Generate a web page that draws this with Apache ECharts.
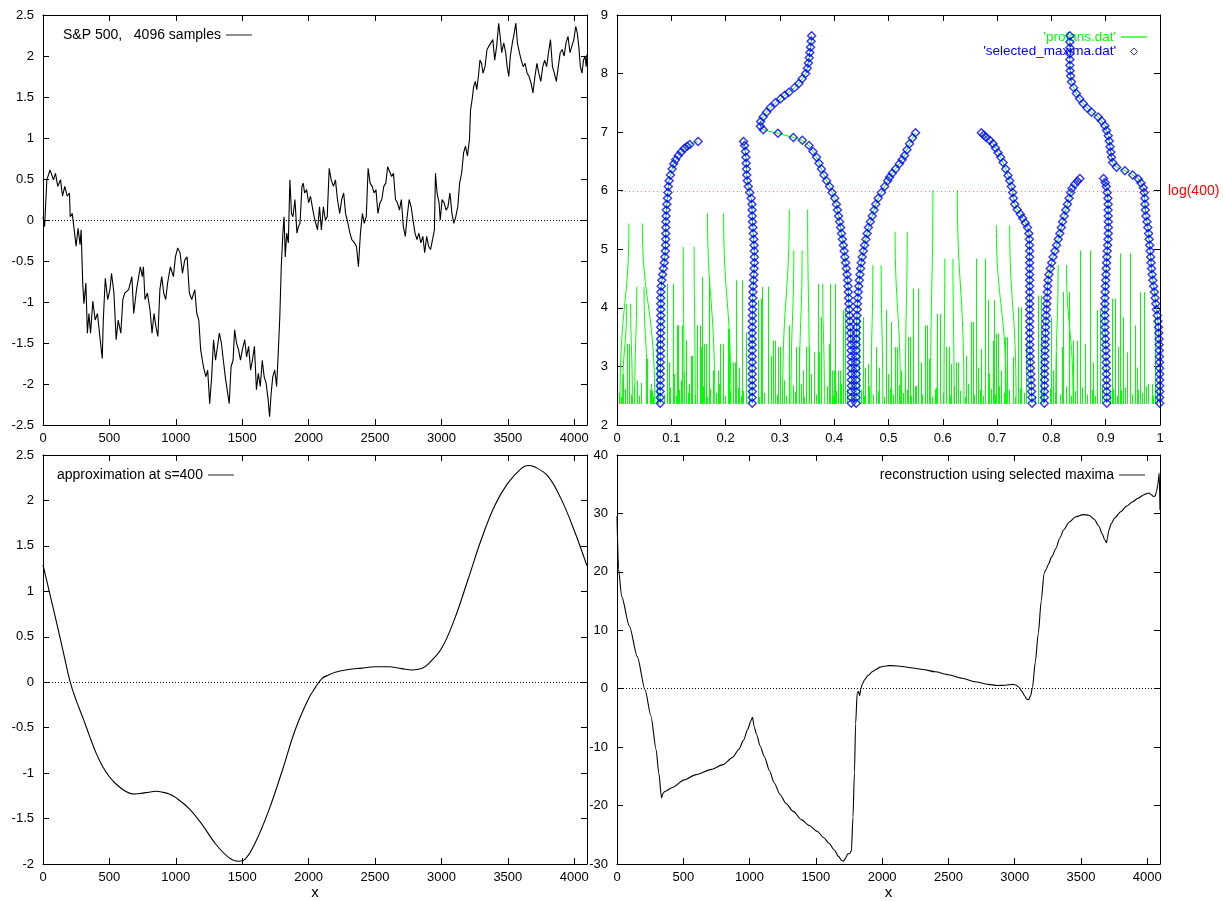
<!DOCTYPE html>
<html><head><meta charset="utf-8">
<script src="https://cdn.jsdelivr.net/npm/echarts@6/dist/echarts.min.js"></script>
<style>html,body{margin:0;padding:0;background:#fff}#c{width:1223px;height:901px}</style>
</head><body><div id="c"></div>
<script>
// ---------------- DATA ----------------
const spData = [[0,0.04],[12,-0.08],[29,0.49],[53,0.61],[64,0.63],[79,0.49],[94,0.57],[111,0.41],[132,0.49],[147,0.29],[164,0.41],[182,0.29],[199,0.33],[205,0.04],[220,0.08],[235,-0.12],[249,-0.32],[264,-0.10],[279,-0.30],[287,-0.12],[299,-0.77],[308,-1.02],[323,-0.77],[334,-1.38],[346,-1.14],[358,-1.38],[375,-0.99],[393,-1.22],[410,-1.14],[428,-1.42],[446,-1.69],[454,-1.22],[469,-0.71],[487,-0.97],[504,-0.85],[516,-0.65],[534,-0.89],[551,-1.46],[566,-1.22],[586,-1.38],[601,-0.97],[616,-0.89],[645,-0.85],[669,-0.69],[683,-1.14],[704,-0.85],[718,-0.85],[733,-0.57],[748,-0.69],[756,-0.57],[768,-0.97],[786,-0.89],[806,-1.10],[821,-1.38],[836,-1.14],[850,-1.30],[865,-1.42],[880,-0.85],[894,-0.69],[909,-0.89],[924,-0.97],[938,-0.77],[959,-0.57],[982,-0.69],[997,-0.45],[1014,-0.34],[1032,-0.40],[1050,-0.65],[1067,-0.49],[1085,-0.45],[1102,-0.89],[1120,-0.97],[1143,-0.85],[1158,-1.14],[1173,-1.22],[1187,-1.58],[1208,-1.79],[1226,-1.91],[1240,-1.83],[1255,-2.24],[1270,-1.91],[1284,-1.46],[1299,-1.71],[1314,-1.54],[1328,-1.38],[1343,-1.50],[1358,-1.71],[1372,-1.91],[1387,-1.91],[1402,-2.24],[1416,-1.79],[1431,-1.71],[1443,-1.34],[1457,-1.50],[1472,-1.58],[1487,-1.71],[1501,-1.58],[1519,-1.46],[1533,-1.67],[1548,-1.54],[1563,-1.83],[1577,-1.71],[1592,-1.54],[1607,-2.07],[1621,-1.87],[1636,-2.03],[1651,-1.71],[1665,-1.91],[1680,-1.99],[1695,-2.19],[1706,-2.40],[1718,-2.11],[1730,-1.91],[1745,-1.83],[1759,-2.03],[1771,-1.63],[1783,-1.18],[1794,-0.57],[1806,-0.16],[1815,0.04],[1824,-0.45],[1835,-0.16],[1847,-0.28],[1859,0.49],[1871,0.08],[1882,0.04],[1897,0.25],[1912,-0.16],[1923,-0.08],[1935,-0.04],[1950,0.41],[1959,0.45],[1970,0.33],[1985,0.37],[2000,0.21],[2014,0.29],[2032,0.12],[2047,0.0],[2067,-0.12],[2082,0.16],[2096,-0.12],[2111,0.16],[2126,0.0],[2140,0.04],[2155,0.63],[2170,0.49],[2187,0.41],[2202,0.49],[2217,0.25],[2234,0.08],[2249,0.25],[2264,0.33],[2278,0.08],[2296,-0.04],[2311,-0.16],[2325,-0.24],[2346,-0.28],[2360,-0.32],[2375,-0.57],[2390,-0.16],[2405,0.08],[2419,-0.04],[2434,0.04],[2448,0.63],[2463,0.45],[2478,0.41],[2493,0.33],[2507,0.37],[2522,0.08],[2537,0.21],[2551,0.25],[2566,0.41],[2581,0.45],[2595,0.65],[2610,0.67],[2625,0.53],[2639,0.57],[2654,0.25],[2669,0.21],[2684,0.12],[2698,0.25],[2713,-0.08],[2728,-0.20],[2742,0.04],[2757,0.25],[2772,0.16],[2786,0.0],[2801,-0.16],[2816,-0.24],[2830,-0.16],[2845,-0.28],[2860,-0.20],[2874,-0.40],[2889,-0.20],[2903,-0.32],[2918,-0.36],[2933,-0.24],[2947,-0.12],[2955,0.57],[2967,0.33],[2982,0.21],[2991,0.0],[3005,0.25],[3020,0.21],[3035,0.12],[3049,0.16],[3064,0.33],[3079,0.08],[3093,-0.04],[3108,0.04],[3123,0.16],[3137,0.45],[3152,0.57],[3167,0.82],[3181,0.90],[3196,0.78],[3211,0.98],[3219,1.34],[3231,1.47],[3243,1.63],[3255,1.69],[3266,1.59],[3278,1.75],[3290,1.95],[3302,1.91],[3313,1.79],[3328,1.87],[3343,2.08],[3357,2.12],[3372,2.16],[3387,2.20],[3401,1.95],[3416,2.12],[3431,2.40],[3442,2.24],[3454,2.04],[3469,2.16],[3484,2.04],[3495,1.87],[3507,1.75],[3519,2.00],[3534,2.16],[3548,2.28],[3560,2.40],[3572,2.16],[3587,2.04],[3601,1.95],[3616,1.87],[3630,1.91],[3645,1.79],[3660,1.75],[3675,1.67],[3689,1.55],[3704,1.75],[3719,1.91],[3733,1.79],[3748,1.69],[3763,1.87],[3777,1.95],[3792,1.87],[3806,2.04],[3821,2.20],[3836,1.87],[3850,1.79],[3865,1.69],[3880,1.87],[3894,2.04],[3909,2.08],[3924,2.00],[3938,2.16],[3953,2.24],[3968,2.04],[3982,2.12],[3997,2.20],[4011,2.36],[4023,2.28],[4034,2.12],[4046,1.87],[4058,1.79],[4070,1.95],[4081,2.00],[4090,1.87],[4096,2.02]];

const approxData = [[0,1.29],[50,0.98],[100,0.67],[150,0.35],[205,0.0],[250,-0.20],[300,-0.39],[350,-0.59],[400,-0.78],[450,-0.93],[500,-1.04],[550,-1.12],[600,-1.18],[650,-1.22],[700,-1.23],[750,-1.22],[800,-1.21],[850,-1.20],[900,-1.21],[950,-1.23],[1000,-1.27],[1100,-1.39],[1200,-1.57],[1300,-1.78],[1400,-1.93],[1470,-1.97],[1520,-1.95],[1600,-1.76],[1700,-1.41],[1800,-0.98],[1900,-0.52],[2000,-0.18],[2050,-0.06],[2100,0.04],[2150,0.08],[2200,0.11],[2300,0.14],[2400,0.155],[2500,0.17],[2600,0.17],[2700,0.15],[2780,0.135],[2850,0.15],[2900,0.20],[3000,0.37],[3100,0.70],[3200,1.13],[3300,1.57],[3400,1.94],[3500,2.19],[3600,2.35],[3650,2.385],[3700,2.37],[3800,2.27],[3900,2.02],[4000,1.67],[4096,1.28]];

const reconData = [[0,29.5],[12,20.4],[35,15.8],[94,10.7],[153,5.5],[212,-0.2],[256,-4.7],[295,-10.4],[315,-14.4],[336,-18.7],[345,-18.0],[360,-17.6],[418,-16.9],[507,-15.6],[595,-14.7],[713,-13.8],[800,-13.0],[870,-11.8],[919,-10.4],[955,-8.8],[985,-7.0],[1010,-5.5],[1022,-4.9],[1035,-6.5],[1052,-7.8],[1080,-9.8],[1111,-11.6],[1150,-14.0],[1185,-16.1],[1230,-18.1],[1273,-19.6],[1330,-21.0],[1391,-22.4],[1450,-23.4],[1509,-24.4],[1560,-25.5],[1597,-26.4],[1640,-27.6],[1671,-28.7],[1695,-29.4],[1709,-29.5],[1725,-29.0],[1739,-28.3],[1755,-28.2],[1768,-27.8],[1780,-22],[1791,-14.4],[1800,-6],[1812,-0.7],[1822,-0.5],[1830,-1.2],[1840,0.0],[1850,0.8],[1870,1.6],[1895,2.3],[1925,2.9],[1954,3.3],[1985,3.7],[2013,3.85],[2050,3.95],[2072,3.95],[2150,3.8],[2230,3.55],[2308,3.3],[2400,2.9],[2500,2.4],[2603,1.8],[2700,1.2],[2800,0.75],[2870,0.55],[2930,0.6],[2986,0.75],[3010,0.6],[3031,0.3],[3055,-0.5],[3075,-1.2],[3090,-1.8],[3105,-1.9],[3120,-1.2],[3134,0.2],[3155,4.5],[3178,9.5],[3200,15],[3222,19.8],[3237,20.4],[3252,21.2],[3280,22.6],[3311,24.0],[3340,25.8],[3370,27.2],[3410,28.5],[3458,29.4],[3517,29.8],[3560,29.7],[3600,29.0],[3635,27.8],[3660,26.5],[3679,25.5],[3692,25.0],[3700,25.8],[3708,27.0],[3730,28.3],[3753,29.2],[3800,30.3],[3841,31.2],[3890,32.0],[3929,32.6],[3975,33.2],[4012,33.5],[4030,33.2],[4047,32.9],[4060,33.0],[4070,33.8],[4080,35.0],[4090,36.9],[4096,30.6]];

// profans.dat : lowest scale level, tall maxima lines [xAtBase, xAtTop, topLevel], short lines [x, topLevel]
const fanBase = 2.36;
const fanTall = [[.0055,.022,5.44],[.0695,.0467,5.44],[.0326,.0363,4.36],[.0560,.0498,4.36],[.0098,.0178,4.07],[.0283,.0252,4.07],[.0928,.0928,4.41],[.1040,.1040,4.41],[.1236,.1220,5.04],[.1440,.1420,5.04],[.1127,.1127,3.70],[.1800,.1667,5.61],[.2097,.1963,5.61],[.1574,.1574,4.53],[.1697,.1697,4.53],[.2190,.2190,4.47],[.2300,.2300,4.47],[.3050,.3173,5.68],[.3542,.3511,5.68],[.3204,.3256,4.98],[.3358,.3409,4.98],[.2669,.2669,4.36],[.2774,.2774,4.36],[.3697,.3697,4.41],[.3819,.3789,4.41],[.3924,.3924,4.41],[.4022,.4022,4.41],[.4680,.4711,4.73],[.4895,.4865,4.73],[.5775,.5818,6.01],[.6390,.6267,6.01],[.5220,.5122,5.30],[.5310,.5344,5.30],[.6022,.6037,4.84],[.6208,.6187,4.84],[.6617,.6617,4.84],[.6771,.6771,4.84],[.7170,.6987,5.41],[.7350,.7232,5.41],[.5448,.5448,4.33],[.5541,.5541,4.33],[.6824,.6824,4.13],[.6937,.6937,4.13],[.8524,.8524,4.98],[.8708,.8708,4.98],[.9260,.9260,4.93],[.9446,.9446,4.93],[.8080,.8124,4.73],[.8400,.8278,4.73],[.8216,.8216,4.27],[.8327,.8327,4.27],[.7755,.7755,4.21],[.7817,.7817,4.21],[.9631,.9631,4.27],[.9705,.9705,4.27]];
const fanShort = [[.0117,2.87],[.0178,3.38],[.0221,3.38],[.0283,2.47],[.0363,2.76],[.0529,3.13],[.0560,3.13],[.0621,2.70],[.0652,2.58],[.0732,3.44],[.0959,3.07],[.1052,2.87],[.1113,3.70],[.1175,2.76],[.1199,3.70],[.1236,2.90],[.1267,3.44],[.1359,3.18],[.1390,3.18],[.1470,3.70],[.1531,3.70],[.1556,3.33],[.1605,3.38],[.1636,3.38],[.1697,2.93],[.1759,2.93],[.1851,2.93],[.1900,3.38],[.1943,3.38],[.2036,3.64],[.2067,3.64],[.2128,3.07],[.2171,3.07],[.2251,2.98],[.2312,2.58],[.2374,3.58],
[.2589,4.13],[.2651,4.16],[.2835,3.18],[.2878,3.44],[.2915,3.44],[.2958,3.33],[.3001,3.33],[.3081,2.76],[.3161,3.70],[.3235,2.67],[.3297,3.33],[.3346,3.33],[.3420,2.93],[.3481,3.33],[.3530,3.33],[.3573,2.87],[.3635,3.24],[.3715,3.24],[.3758,3.84],[.3911,3.38],[.3961,2.93],[.4004,2.93],[.4065,2.93],[.4108,2.93],[.4157,3.96],[.4207,3.96],[.4465,3.84],[.4526,3.84],[.4576,2.98],[.4619,3.04],[.4773,3.33],[.4834,2.98],[.4957,3.96],[.4988,2.87],
[.5049,3.76],[.5111,3.33],[.5160,3.33],[.5221,2.93],[.5295,2.87],[.5357,3.50],[.5387,3.50],[.5510,2.67],[.5590,3.07],[.5664,3.70],[.5713,3.70],[.5738,3.13],[.5849,2.61],[.5898,3.90],[.5941,3.90],[.6064,3.33],[.6107,3.33],[.6156,3.04],[.6248,3.07],[.6279,3.07],[.6433,3.18],[.6513,3.76],[.6556,3.76],[.6648,2.98],[.6710,3.30],[.6845,2.87],[.6925,3.44],[.6987,3.56],[.7017,3.56],[.7079,2.93],[.7140,3.50],[.7189,3.50],[.7294,3.16],[.7386,4.01],[.7448,4.01],
[.7540,3.38],[.8001,3.84],[.8032,2.93],[.8093,3.24],[.8204,3.33],[.8401,3.44],[.8463,3.44],[.8616,3.38],[.8770,3.07],[.8844,3.96],[.8893,3.96],[.9108,4.16],[.9170,4.16],[.9231,3.33],[.9324,3.84],[.9385,3.24],[.9539,3.70],[.9570,2.98],[.9785,2.70],[.9846,2.70],[.9908,3.84],
[.004,2.55],[.008,2.48],[.014,2.62],[.026,2.52],[.031,2.66],[.040,2.50],[.044,2.72],[.060,2.60],[.066,2.49],[.076,2.56],[.087,2.52],[.098,2.64],[.108,2.50],[.115,2.60],[.130,2.55],[.133,2.70],[.144,2.52],[.158,2.66],[.166,2.48],[.172,2.62],[.182,2.55],[.188,2.70],[.198,2.50],[.208,2.58],[.222,2.64],[.228,2.50],[.243,2.60],[.262,2.48],[.270,2.55],[.278,2.68],[.294,2.52],[.303,2.62],[.312,2.50],[.327,2.56],[.338,2.70],[.345,2.48],[.358,2.60],[.366,2.52],[.386,2.66],[.398,2.50],[.403,2.58],[.413,2.70],[.419,2.52],[.424,2.62],[.450,2.60],[.455,2.50],[.465,2.66],[.472,2.52],[.480,2.58],[.492,2.48],[.502,2.62],[.508,2.52],[.519,2.68],[.526,2.55],[.534,2.60],[.542,2.50],[.548,2.66],[.562,2.52],[.570,2.58],[.580,2.48],[.587,2.64],[.600,2.55],[.613,2.50],[.620,2.66],[.632,2.58],[.640,2.48],[.647,2.70],[.658,2.52],[.668,2.60],[.674,2.50],[.688,2.62],[.696,2.52],[.704,2.66],[.712,2.55],[.722,2.60],[.733,2.48],[.742,2.62],[.750,2.55],[.769,2.50],[.776,2.66],[.784,2.58],[.797,2.62],[.806,2.55],[.815,2.52],[.826,2.66],[.836,2.50],[.844,2.58],[.857,2.64],[.866,2.52],[.874,2.60],[.881,2.50],[.894,2.66],[.907,2.55],[.914,2.62],[.920,2.50],[.929,2.58],[.936,2.64],[.948,2.52],[.960,2.60],[.966,2.55],[.975,2.66],[.988,2.50],[.995,2.58]];

// selected_maxima.dat : chains of maxima [x, level]
const chainA = [[.0795,2.37],[.0795,2.47],[.0795,2.57],[.0795,2.67],[.0796,2.77],[.0797,2.87],[.0798,2.97],[.0799,3.07],[.0800,3.17],[.0800,3.27],[.0801,3.37],[.0802,3.47],[.0803,3.57],[.0804,3.67],[.0805,3.77],[.0806,3.87],[.0806,3.97],[.0806,4.07],[.0806,4.17],[.0808,4.27],[.0815,4.37],[.0826,4.47],[.0840,4.57],[.0855,4.67],[.0870,4.77],[.0882,4.87],[.0890,4.97],[.0895,5.07],[.0898,5.17],[.0899,5.27],[.0899,5.37],[.0900,5.47],[.0903,5.57],[.0908,5.67],[.0918,5.77],[.0930,5.87],[.0938,5.97],[.0945,6.07],[.0960,6.17],[.0985,6.27],[.1015,6.37],[.1045,6.46],[.1080,6.53],[.1130,6.60],[.1180,6.66],[.1240,6.72],[.1290,6.76],[.1340,6.79],[.1494,6.84]];
const chainB = [[.2490,2.37],[.2490,2.47],[.2490,2.57],[.2490,2.67],[.2490,2.77],[.2490,2.87],[.2490,2.97],[.2490,3.07],[.2490,3.17],[.2490,3.27],[.2490,3.37],[.2490,3.47],[.2490,3.57],[.2490,3.67],[.2492,3.77],[.2494,3.87],[.2496,3.97],[.2498,4.07],[.2500,4.17],[.2503,4.27],[.2508,4.37],[.2514,4.47],[.2520,4.57],[.2526,4.67],[.2530,4.77],[.2530,4.87],[.2528,4.97],[.2524,5.07],[.2518,5.17],[.2510,5.27],[.2502,5.37],[.2495,5.47],[.2490,5.57],[.2487,5.67],[.2485,5.77],[.2470,5.87],[.2445,5.97],[.2418,6.07],[.2400,6.17],[.2390,6.27],[.2385,6.37],[.2380,6.47],[.2375,6.57],[.2365,6.67],[.2350,6.77],[.2330,6.84]];
const chainC = [[.4315,2.37],[.4315,2.47],[.4315,2.57],[.4315,2.67],[.4315,2.77],[.4315,2.87],[.4315,2.97],[.4314,3.07],[.4313,3.17],[.4312,3.27],[.4310,3.37],[.4305,3.47],[.4300,3.57],[.4295,3.67],[.4290,3.77],[.4283,3.87],[.4277,3.97],[.4270,4.07],[.4265,4.17],[.4260,4.27],[.4254,4.37],[.4248,4.47],[.4236,4.57],[.4224,4.67],[.4210,4.77],[.4196,4.87],[.4183,4.97],[.4168,5.07],[.4150,5.17],[.4135,5.27],[.4118,5.37],[.4100,5.47],[.4080,5.57],[.4060,5.67],[.4040,5.77],[.4010,5.87],[.3960,5.97],[.3915,6.07],[.3860,6.17],[.3810,6.27],[.3765,6.37],[.3720,6.47],[.3675,6.57],[.3610,6.67],[.3536,6.77],[.3413,6.86],[.3247,6.91],[.2964,6.98],[.2694,7.04],[.2640,7.10],[.2645,7.18],[.2690,7.26],[.2755,7.34],[.2825,7.42],[.2915,7.50],[.3013,7.57],[.3090,7.63],[.3167,7.68],[.3270,7.76],[.3350,7.83],[.3410,7.91],[.3475,8.00],[.3505,8.09],[.3525,8.18],[.3540,8.27],[.3553,8.36],[.3565,8.45],[.3575,8.55],[.3585,8.645]];
const chainD = [[.4405,2.37],[.4405,2.47],[.4405,2.57],[.4405,2.67],[.4405,2.77],[.4405,2.87],[.4405,2.97],[.4405,3.07],[.4405,3.17],[.4405,3.27],[.4405,3.37],[.4405,3.47],[.4407,3.57],[.4410,3.67],[.4414,3.77],[.4419,3.87],[.4424,3.97],[.4429,4.07],[.4434,4.17],[.4442,4.27],[.4452,4.37],[.4463,4.47],[.4474,4.57],[.4486,4.67],[.4498,4.77],[.4515,4.87],[.4537,4.97],[.4560,5.07],[.4583,5.17],[.4606,5.27],[.4630,5.37],[.4665,5.47],[.4700,5.57],[.4735,5.67],[.4765,5.77],[.4810,5.87],[.4870,5.97],[.4930,6.07],[.4985,6.17],[.5020,6.23],[.5070,6.30],[.5130,6.37],[.5200,6.46],[.5250,6.53],[.5295,6.60],[.5340,6.70],[.5387,6.80],[.5440,6.90],[.5498,6.99]];
const chainE = [[.7645,2.37],[.7640,2.47],[.7635,2.57],[.7630,2.67],[.7625,2.77],[.7620,2.87],[.7615,2.97],[.7612,3.07],[.7608,3.17],[.7605,3.27],[.7603,3.37],[.7600,3.47],[.7600,3.57],[.7600,3.67],[.7600,3.77],[.7600,3.87],[.7600,3.97],[.7600,4.07],[.7600,4.17],[.7600,4.27],[.7600,4.37],[.7600,4.47],[.7600,4.57],[.7600,4.67],[.7600,4.77],[.7600,4.87],[.7600,4.97],[.7598,5.07],[.7594,5.17],[.7585,5.27],[.7560,5.37],[.7520,5.45],[.7470,5.53],[.7430,5.60],[.7370,5.68],[.7325,5.77],[.7300,5.87],[.7285,5.97],[.7262,6.07],[.7232,6.17],[.7200,6.26],[.7158,6.37],[.7110,6.48],[.7065,6.57],[.7017,6.65],[.6970,6.73],[.6925,6.80],[.6865,6.86],[.6800,6.91],[.6755,6.95],[.6710,6.99]];
const chainF = [[.7870,2.37],[.7870,2.47],[.7872,2.57],[.7873,2.67],[.7874,2.77],[.7875,2.87],[.7876,2.97],[.7878,3.07],[.7880,3.17],[.7882,3.27],[.7885,3.37],[.7888,3.47],[.7891,3.57],[.7895,3.67],[.7899,3.77],[.7905,3.87],[.7910,3.97],[.7915,4.07],[.7920,4.17],[.7925,4.27],[.7932,4.37],[.7938,4.47],[.7955,4.57],[.7980,4.67],[.8005,4.77],[.8030,4.87],[.8065,4.97],[.8095,5.07],[.8125,5.17],[.8155,5.27],[.8183,5.37],[.8205,5.47],[.8235,5.57],[.8264,5.67],[.8295,5.77],[.8325,5.87],[.8355,5.97],[.8380,6.04],[.8430,6.11],[.8480,6.16],[.8524,6.21]];
const chainG = [[.9020,2.37],[.9020,2.47],[.9018,2.57],[.9016,2.67],[.9014,2.77],[.9012,2.87],[.9010,2.97],[.9008,3.07],[.9005,3.17],[.9003,3.27],[.9000,3.37],[.8995,3.47],[.8990,3.57],[.8988,3.67],[.8986,3.77],[.8985,3.87],[.8985,3.97],[.8985,4.07],[.8987,4.17],[.8990,4.27],[.8995,4.37],[.9000,4.47],[.9005,4.57],[.9010,4.67],[.9016,4.77],[.9022,4.87],[.9028,4.97],[.9035,5.07],[.9042,5.17],[.9048,5.27],[.9050,5.37],[.9048,5.47],[.9046,5.57],[.9044,5.67],[.9045,5.77],[.9040,5.87],[.9028,5.97],[.9010,6.07],[.8990,6.14],[.8960,6.21]];
const chainH = [[.9995,2.37],[.9995,2.47],[.9995,2.57],[.9995,2.67],[.9995,2.77],[.9995,2.87],[.9995,2.97],[.9993,3.07],[.9990,3.17],[.9988,3.27],[.9985,3.37],[.9982,3.47],[.9978,3.57],[.9972,3.67],[.9963,3.77],[.9950,3.87],[.9935,3.97],[.9922,4.07],[.9910,4.17],[.9896,4.27],[.9882,4.37],[.9868,4.47],[.9855,4.57],[.9845,4.67],[.9836,4.77],[.9828,4.87],[.9818,4.97],[.9810,5.07],[.9800,5.17],[.9790,5.27],[.9775,5.37],[.9760,5.47],[.9742,5.57],[.9730,5.67],[.9723,5.77],[.9720,5.87],[.9708,5.97],[.9692,6.05],[.9650,6.13],[.9600,6.20],[.9496,6.27],[.9354,6.34],[.9200,6.40],[.9127,6.48],[.9108,6.57],[.9095,6.66],[.9080,6.75],[.9065,6.85],[.9046,6.94],[.9015,7.03],[.8985,7.11],[.8925,7.19],[.8860,7.26],[.8740,7.34],[.8660,7.41],[.8585,7.49],[.8520,7.57],[.8460,7.66],[.8410,7.76],[.8370,7.86],[.8355,7.96],[.8345,8.05],[.8340,8.14],[.8340,8.24],[.8340,8.34],[.8340,8.44],[.8340,8.54],[.8340,8.645]];
const chains = [chainA, chainB, chainC, chainD, chainE, chainF, chainG, chainH];
const logLevel = 5.99; // log(400)

// axis ranges [min, max, interval]
const xRanges = [[0,4096,500],[0,1,0.1],[0,4096,500],[0,4096,500]];
const yRanges = [[-2.5,2.5,0.5],[2,9,1],[-2,2.5,0.5],[-30,40,10]];

// names
const nSP = 'S&P 500,   4096 samples';
const nFan = "'profans.dat'";
const nMax = "'selected_maxima.dat'";
const nApp = 'approximation at s=400';
const nRec = 'reconstruction using selected maxima';

// ---------------- CHART ----------------
const FONT = '"Liberation Sans", Arial, Helvetica, sans-serif';
const GREEN = '#00ff00', BLUE = '#0000ff', RED = '#ff0000';
const grids = [
  {left:43, top:15, width:544, height:410},
  {left:617, top:15, width:543, height:410},
  {left:43, top:455, width:544, height:409},
  {left:617, top:455, width:543, height:409}
];
const fmt = v => String(Math.round(v * 1000) / 1000);
const xAxes = [], yAxes = [];
const axLine = {onZero:false, lineStyle:{color:'#000', width:1}};
const axTick = {inside:true, length:6, lineStyle:{color:'#000', width:1}};
const lab = {color:'#000', fontSize:13, fontFamily:FONT, formatter:fmt};
for (let g = 0; g < 4; g++) {
  const [x0,x1,xi] = xRanges[g], [y0,y1,yi] = yRanges[g];
  xAxes.push({type:'value', gridIndex:g, position:'bottom', min:x0, max:x1, interval:xi,
    splitLine:{show:false}, axisLine:axLine, axisTick:axTick,
    axisLabel:Object.assign({margin:7, showMaxLabel: x1 === 1, showMinLabel:true}, lab),
    name: g >= 2 ? 'x' : '', nameLocation:'middle', nameGap:19,
    nameTextStyle:{color:'#000', fontSize:15, fontFamily:FONT}});
  xAxes.push({type:'value', gridIndex:g, position:'top', min:x0, max:x1, interval:xi,
    splitLine:{show:false}, axisLine:axLine, axisTick:axTick, axisLabel:{show:false}});
  yAxes.push({type:'value', gridIndex:g, position:'left', min:y0, max:y1, interval:yi,
    splitLine:{show:false}, axisLine:axLine, axisTick:axTick,
    axisLabel:Object.assign({margin:9, showMaxLabel:true, showMinLabel:true}, lab)});
  yAxes.push({type:'value', gridIndex:g, position:'right', min:y0, max:y1, interval:yi,
    splitLine:{show:false}, axisLine:axLine, axisTick:axTick, axisLabel:{show:false}});
}

const zeroLine = {silent:true, symbol:['none','none'], label:{show:false},
  lineStyle:{color:'#000', type:[1,2], width:1}, data:[{yAxis:0}], animation:false};

const fanAll = fanTall.concat(fanShort.map(s => [s[0], s[0], s[1]]));

function fanRender(params, api) {
  const L = fanAll[api.value(2)];
  const p0 = api.coord([L[0], fanBase]);
  const p1 = api.coord([L[1], L[2]]);
  const style = {stroke:GREEN, fill:null, lineWidth:1};
  if (Math.abs(p0[0] - p1[0]) < 0.6) {
    const x = Math.round(p0[0]) + 0.5;
    return {type:'line', shape:{x1:x, y1:p0[1], x2:x, y2:p1[1]}, style};
  }
  const my = p0[1] + (p1[1] - p0[1]) * 0.55;
  return {type:'bezierCurve', shape:{x1:p0[0], y1:p0[1], x2:p1[0], y2:p1[1],
    cpx1:p0[0], cpy1:my, cpx2:p1[0], cpy2:my}, style};
}

const series = [];
series.push({name:nSP, type:'line', xAxisIndex:0, yAxisIndex:0, data:spData, symbol:'none',
  lineStyle:{color:'#000', width:1.1}, itemStyle:{color:'#000'}, markLine:zeroLine, z:3});
series.push({name:nFan, type:'custom', xAxisIndex:2, yAxisIndex:2, renderItem:fanRender,
  data: fanAll.map((l,i) => [l[1], l[2], i]), encode:{x:0, y:1},
  itemStyle:{color:GREEN}, z:2, clip:true, silent:true});
chains.forEach((c, k) => {
  const s = {name:'chain' + k, type:'line', xAxisIndex:2, yAxisIndex:2, data:c, symbol:'none',
    lineStyle:{color:GREEN, width:1}, z:3, silent:true};
  if (k === 0) {
    s.markLine = {silent:true, symbol:['none','none'],
      label:{show:true, position:'end', formatter:'log(400)', color:RED, opacity:1, fontSize:14, fontFamily:FONT, distance:8},
      lineStyle:{color:'rgba(255,0,0,0.55)', type:[1,3], width:1}, data:[{yAxis:logLevel}]};
  }
  series.push(s);
});
series.push({name:nMax, type:'scatter', xAxisIndex:2, yAxisIndex:2,
  data: [].concat(...chains), symbol:'diamond', symbolSize:8,
  itemStyle:{color:'rgba(255,255,255,0)', borderColor:BLUE, borderWidth:1.4}, z:4, silent:true});
series.push({name:nApp, type:'line', xAxisIndex:4, yAxisIndex:4, data:approxData, symbol:'none', smooth:0.4,
  lineStyle:{color:'#000', width:1.1}, itemStyle:{color:'#000'}, markLine:zeroLine, z:3});
series.push({name:nRec, type:'line', xAxisIndex:6, yAxisIndex:6, data:reconData, symbol:'none', smooth:0.25,
  smoothMonotone:'x', lineStyle:{color:'#000', width:1.1}, itemStyle:{color:'#000'}, markLine:zeroLine, z:3});

const legTxt = {color:'#000', fontSize:14, fontFamily:FONT, lineHeight:14};
const lineIcon = 'path://M0,0H26V1.3H0Z';
const blackItem = {color:'#555', borderWidth:0};
const legends = [
  {data:[{name:nSP, icon:lineIcon, itemStyle:blackItem}], left:63, top:28, align:'right', itemWidth:26, itemHeight:10, padding:0,
    selectedMode:false, textStyle:legTxt},
  {data:[{name:nFan, icon:lineIcon, itemStyle:{color:GREEN, borderWidth:0},
          textStyle:{color:GREEN, fontSize:13.5, fontFamily:FONT, lineHeight:12}},
         {name:nMax, icon:'path://M3.5,0L7,3.5L3.5,7L0,3.5Z',
          itemStyle:{color:'rgba(255,255,255,0)', borderColor:BLUE, borderWidth:1},
          textStyle:{color:BLUE, fontSize:13.5, fontFamily:FONT, lineHeight:12}}],
    right:76, top:30, orient:'vertical', align:'right', itemWidth:26, itemHeight:7, itemGap:0.5,
    padding:0, selectedMode:false},
  {data:[{name:nApp, icon:lineIcon, itemStyle:blackItem}], left:57, top:468, align:'right', itemWidth:26, itemHeight:10, padding:0,
    selectedMode:false, textStyle:legTxt},
  {data:[{name:nRec, icon:lineIcon, itemStyle:blackItem}], right:78, top:468, align:'right', itemWidth:26, itemHeight:10, padding:0,
    selectedMode:false, textStyle:legTxt}
];

const chart = echarts.init(document.getElementById('c'), null, {renderer:'canvas'});
chart.setOption({
  animation:false,
  backgroundColor:'#fff',
  textStyle:{fontFamily:FONT},
  grid:grids, xAxis:xAxes, yAxis:yAxes, legend:legends, series:series
});
</script>
</body></html>
